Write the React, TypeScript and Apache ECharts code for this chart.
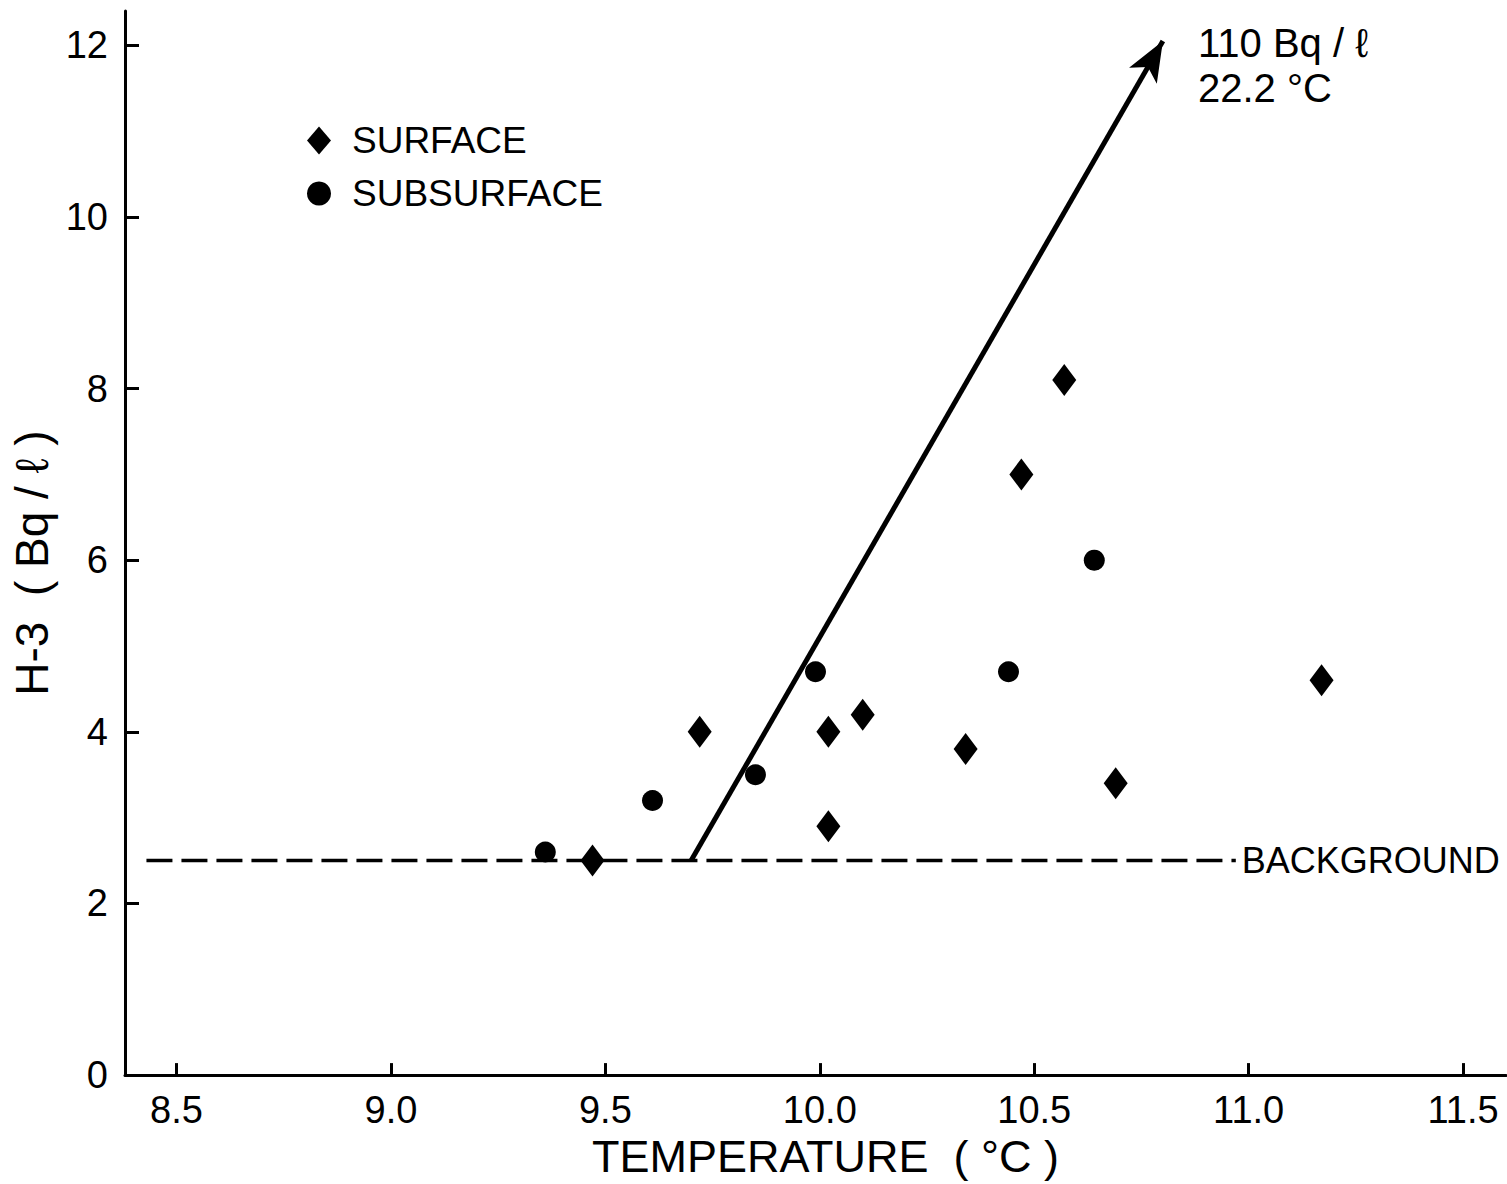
import React, { useEffect, useRef } from "react";
import * as echarts from "echarts";

// ---- Data ----
const SURFACE_T = [9.47, 9.72, 10.02, 10.02, 10.1, 10.34, 10.47, 10.57, 10.69, 11.17];
const SURFACE_H3 = [2.5, 4.0, 4.0, 2.9, 4.2, 3.8, 7.0, 8.1, 3.4, 4.6];

const SUBSURFACE_T = [9.36, 9.61, 9.85, 9.99, 10.44, 10.64];
const SUBSURFACE_H3 = [2.6, 3.2, 3.5, 4.7, 4.7, 6.0];

const BACKGROUND_H3 = 2.5;
const BACKGROUND_T = [8.43, 10.97];

const TREND_START = [9.7, 2.5];
const TREND_END = [10.8, 12.05];

const X_TICKS = [8.5, 9.0, 9.5, 10.0, 10.5, 11.0, 11.5];
const Y_TICKS = [0, 2, 4, 6, 8, 10, 12];

const X_RANGE = [8.38, 11.6];
const Y_RANGE = [0, 12.4];

const ANNOTATION = "110 Bq / ℓ\n22.2 °C";

const FONT = "'Liberation Sans', 'DejaVu Sans', Arial, sans-serif";

export default function App() {
  const ref = useRef<HTMLDivElement>(null);

  useEffect(() => {
    if (!ref.current) return;
    const chart = echarts.init(ref.current, undefined, { renderer: "svg" });

    const surface = SURFACE_T.map((t, i) => [t, SURFACE_H3[i]]);
    const subsurface = SUBSURFACE_T.map((t, i) => [t, SUBSURFACE_H3[i]]);
    const background = BACKGROUND_T.map((t) => [t, BACKGROUND_H3]);

    chart.setOption({
      animation: false,
      backgroundColor: "#ffffff",
      textStyle: { fontFamily: FONT, color: "#000" },
      grid: { left: 125, right: 1, top: 11, bottom: 104, containLabel: false },
      xAxis: {
        type: "value",
        min: X_RANGE[0],
        max: X_RANGE[1],
        name: "TEMPERATURE  ( °C )",
        nameLocation: "middle",
        nameGap: 56,
        nameTextStyle: { fontSize: 45, color: "#000", fontFamily: FONT, padding: [0, 0, 0, 20] },
        axisLine: { show: true, lineStyle: { color: "#000", width: 3 } },
        axisTick: {
          show: true,
          inside: true,
          length: 12,
          lineStyle: { color: "#000", width: 3 },
          customValues: X_TICKS,
        },
        axisLabel: {
          show: true,
          customValues: X_TICKS,
          margin: 16,
          fontSize: 38,
          color: "#000",
          fontFamily: FONT,
          formatter: (v: number) => v.toFixed(1),
        },
        splitLine: { show: false },
      },
      yAxis: {
        type: "value",
        min: Y_RANGE[0],
        max: Y_RANGE[1],
        name: "H-3  ( Bq / ℓ )",
        nameLocation: "middle",
        nameRotate: 90,
        nameGap: 68,
        nameTextStyle: { fontSize: 46, color: "#000", fontFamily: FONT, padding: [0, 40, 0, 0] },
        axisLine: { show: true, lineStyle: { color: "#000", width: 3 } },
        axisTick: {
          show: true,
          inside: true,
          length: 14,
          lineStyle: { color: "#000", width: 3 },
          customValues: Y_TICKS,
        },
        axisLabel: {
          show: true,
          customValues: Y_TICKS,
          margin: 17,
          fontSize: 38,
          color: "#000",
          fontFamily: FONT,
          formatter: (v: number) => String(Math.round(v)),
        },
        splitLine: { show: false },
      },
      legend: {
        show: true,
        orient: "vertical",
        left: 302,
        top: 117,
        itemWidth: 24,
        itemHeight: 28,
        itemGap: 16,
        textStyle: {
          fontSize: 37,
          color: "#000",
          fontFamily: FONT,
          padding: [0, 0, 0, 16],
        },
        data: [
          { name: "SURFACE", icon: "diamond" },
          { name: "SUBSURFACE", icon: "circle" },
        ],
      },
      graphic: [
        {
          type: "text",
          left: 1198,
          top: 20,
          style: {
            text: ANNOTATION,
            font: `40px ${FONT}`,
            fill: "#000",
            lineHeight: 45,
          },
        },
      ],
      series: [
        {
          name: "BACKGROUND",
          type: "line",
          data: background,
          showSymbol: false,
          symbol: "none",
          silent: true,
          lineStyle: { color: "#000", width: 3.5, type: [26, 9] },
          endLabel: {
            show: true,
            formatter: "BACKGROUND",
            distance: 6,
            fontSize: 36,
            color: "#000",
            fontFamily: FONT,
          },
          z: 1,
        },
        {
          name: "TREND",
          type: "line",
          data: [],
          silent: true,
          markLine: {
            silent: true,
            animation: false,
            symbol: ["none", "arrow"],
            label: { show: false },
            lineStyle: { color: "#000", width: 5, type: "solid", opacity: 1 },
            itemStyle: { color: "#000" },
            emphasis: { disabled: true },
            data: [
              [
                { coord: TREND_START, symbol: "none", symbolSize: 1 },
                { coord: TREND_END, symbol: "arrow", symbolSize: [24, 40] },
              ],
            ],
          },
          z: 2,
        },
        {
          name: "SURFACE",
          type: "scatter",
          data: surface,
          symbol: "diamond",
          symbolSize: [24, 32],
          itemStyle: { color: "#000", opacity: 1 },
          z: 3,
        },
        {
          name: "SUBSURFACE",
          type: "scatter",
          data: subsurface,
          symbol: "circle",
          symbolSize: 21,
          itemStyle: { color: "#000", opacity: 1 },
          z: 3,
        },
      ],
    });

    return () => {
      chart.dispose();
    };
  }, []);

  return (
    <div
      ref={ref}
      style={{ position: "absolute", left: 0, top: 0, width: 1507, height: 1184, background: "#fff" }}
    />
  );
}
